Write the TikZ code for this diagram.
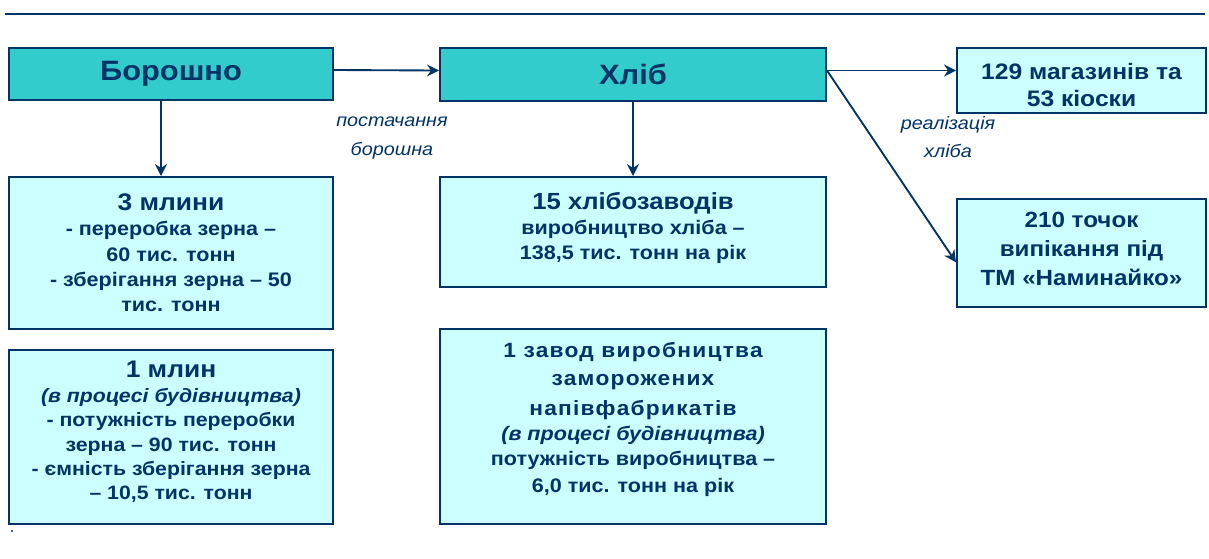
\documentclass[tikz,border=0pt]{standalone}
\usepackage{fontspec}
\setmainfont[FakeStretch=1.1]{Liberation Sans}
\usetikzlibrary{arrows.meta}
\definecolor{navy}{HTML}{003366}
\definecolor{headfill}{HTML}{33CCCC}
\definecolor{infofill}{HTML}{CCFFFF}
\newcommand\wideline[1]{{\fontsize{15.5}{21.5}\selectfont\addfontfeature{LetterSpace=6}#1}}
\newcommand\boxtitle[1]{{\fontsize{18}{19}\selectfont #1}}

\begin{document}
\begin{tikzpicture}[x=0.75pt,y=-0.75pt,
    headbox/.style={draw=navy,line width=1.5pt,fill=headfill,text=navy,inner sep=0pt,
        font=\bfseries\fontsize{21}{25}\selectfont},
    infobox/.style={draw=navy,line width=1.5pt,fill=infofill,text=navy,inner sep=0pt,align=center,
        font=\bfseries\fontsize{14.7}{19}\selectfont},
    link/.style={navy,line width=1.4pt,-{Stealth[length=9pt,width=9pt,inset=3pt]}},
    note/.style={text=navy,align=center,font=\itshape\fontsize{13.5}{21.5}\selectfont}]
    \useasboundingbox (0,0) rectangle (1209,558);
    \draw[navy,line width=2.2pt] (5,14) -- (1205,14);

    \node[headbox,minimum width=243pt,minimum height=39pt] (flour) at (171,74) {Борошно};
    \node[headbox,minimum width=289.5pt,minimum height=39.75pt] (bread) at (633,74.5) {Хліб};
    \node[infobox,minimum width=186.75pt,minimum height=48.75pt,text height=39pt,text depth=0pt,
        font=\bfseries\fontsize{16.8}{20}\selectfont]
        (shops) at (1081.5,80.5) {129 магазинів та\\53 кіоски};
    \node[infobox,minimum width=186.75pt,minimum height=81pt,text depth=6.3pt,
        font=\bfseries\fontsize{16.5}{21.4}\selectfont]
        (bakeries) at (1081.5,253) {210 точок\\випікання під\\ТМ «Наминайко»};

    \node[infobox,minimum width=243pt,minimum height=114pt] (mills) at (171,253)
        {\boxtitle{3 млини}\\- переробка зерна –\\60 тис. тонн\\- зберігання зерна – 50\\тис. тонн};
    \node[infobox,minimum width=243pt,minimum height=130.5pt,text depth=9.5pt,
        font=\bfseries\fontsize{14.5}{18.3}\selectfont]
        (mill) at (171,437)
        {\boxtitle{1 млин}\\{\itshape(в процесі будівництва)}\\- потужність переробки\\зерна – 90 тис. тонн\\- ємність зберігання зерна\\– 10,5 тис. тонн};
    \node[infobox,minimum width=289.5pt,minimum height=82.5pt,text depth=9pt] (plants) at (633,232)
        {{\fontsize{17.5}{19}\selectfont 15 хлібозаводів}\\виробництво хліба –\\138,5 тис. тонн на рік};
    \node[infobox,minimum width=289.5pt,minimum height=146.25pt,text depth=13.5pt] (plant) at (633,426.5)
        {\wideline{1 завод виробництва}\\[2pt]\wideline{заморожених}\\[3pt]\wideline{напівфабрикатів}\\{\itshape(в процесі будівництва)}\\потужність виробництва –\\[1pt]6,0 тис. тонн на рік};

    \node[note] (supply) at (392,138) {постачання\\борошна};
    \node[note] (sales) at (948,137) {реалізація\\хліба};

    \draw[link] ([yshift=3pt]flour.east) -- ([yshift=3pt]bread.west);
    \draw[link] ([xshift=-7.5pt]flour.south) -- ([xshift=-7.5pt]mills.north);
    \draw[link] (bread.south) -- (plants.north);
    \draw[link] ([yshift=3pt]bread.east) -- ([yshift=3pt]bread.east -| shops.west);
    \draw[link] ([yshift=3pt]bread.east) -- ([yshift=-7pt]bakeries.west);

    \fill[navy] (12,531) circle (0.9pt);
\end{tikzpicture}
\end{document}
